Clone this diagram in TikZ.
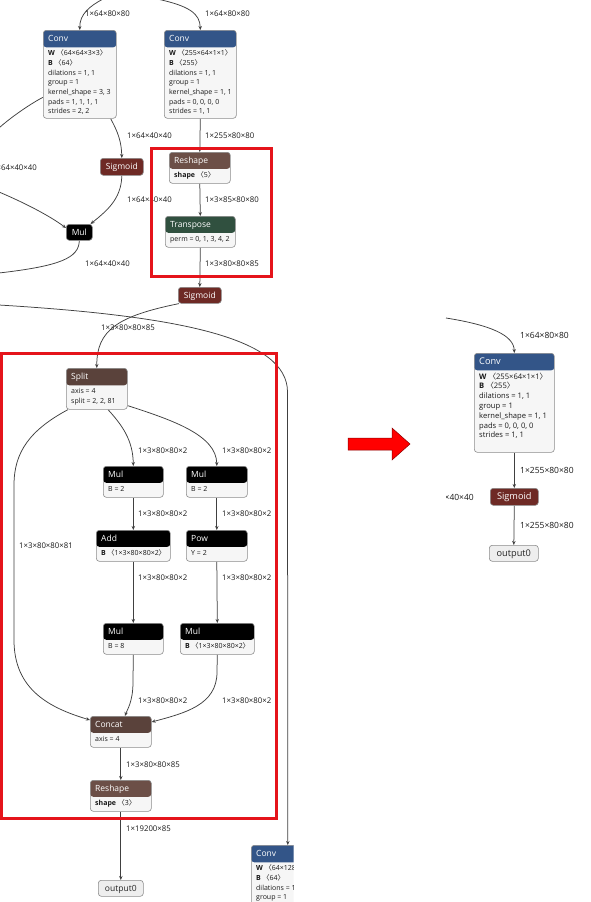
\documentclass[tikz,border=0pt]{standalone}
\usepackage{fontspec}
\setmainfont{Open Sans}
\newfontfamily\cjk{Noto Sans CJK SC}
\usetikzlibrary{arrows.meta}
\pgfdeclarelayer{bottom}
\pgfdeclarelayer{edges}
\pgfsetlayers{bottom,edges,main}
\definecolor{cLayer}{HTML}{335588}
\definecolor{cAct}{HTML}{6E2A25}
\definecolor{cShape}{HTML}{6C4F47}
\definecolor{cTensor}{HTML}{5A423B}
\definecolor{cTrans}{HTML}{30503F}
\definecolor{cEdge}{HTML}{404040}
\definecolor{cBorder}{HTML}{8C8C8C}
\definecolor{cBody}{HTML}{F6F6F6}
\definecolor{cOut}{HTML}{EEEEEE}
\definecolor{cRed}{HTML}{E5141B}
\newcommand\lbr{{\cjk 〈}}
\newcommand\rbr{{\cjk 〉}}
\def\bodysp{9.67}
\tikzset{
  opbox/.style={draw=cBorder, line width=0.6pt, fill=cBody, rounded corners=3pt, inner sep=0pt, anchor=north west},
  hdrtxt/.style={text=white, font=\fontsize{8.5}{10}\selectfont, inner sep=0pt, anchor=base west},
  bodytxt/.style={text=black!90, font=\fontsize{7}{9}\selectfont, inner sep=0pt, anchor=base west},
  elabel/.style={text=black!90, font=\fontsize{7.8}{9}\selectfont, inner sep=0pt, anchor=west},
  edge/.style={draw=cEdge, line width=0.75pt, -{Stealth[length=4pt,width=3.4pt]}},
  plainedge/.style={draw=cEdge, line width=0.75pt},
  redframe/.style={draw=cRed, line width=3pt},
}
% name, x, y, w, h, header colour, header height, title
\newcommand\opnode[8]{%
  \node[opbox, minimum width=#4, minimum height=#5,
    path picture={\fill[#6] ([yshift=2pt]path picture bounding box.north west) rectangle ([yshift=-#7 pt]path picture bounding box.north east);}]
    (#1) at (#2,#3) {};
  \node[hdrtxt] (#1-h) at ([xshift=5pt,yshift=-11.5pt]#1.north west) {#8};}
% name, x, y, w, h, fill, text colour, text
\newcommand\simplenode[8]{%
  \node[opbox, fill=#6, minimum width=#4, minimum height=#5] (#1) at (#2,#3) {};
  \node[hdrtxt, text=#7, anchor=base] (#1-h) at ([yshift=-3pt]#1.center) {#8};}
% name, x, first baseline y, lines
\newcommand\bodylines[4]{%
  \foreach \t [count=\i] in {#4}{\node[bodytxt] (#1-\i) at (#2,{#3+\bodysp*(\i-1)}) {\t};}}
\begin{document}
\begin{tikzpicture}[x=1pt,y=-1pt]
\useasboundingbox (0,0) rectangle (590,902);
\begin{pgfonlayer}{bottom}
  \fill[white] (0,0) rectangle (590,902);
\end{pgfonlayer}

%================ left panel =================
\begin{scope}
\clip (0,0) rectangle (293.5,902);
\opnode{convA}{43}{30}{73}{88}{cLayer}{17}{Conv}
\bodylines{convA}{48}{55.8}{{\textbf{W} \lbr 64×64×3×3\rbr},{\textbf{B} \lbr 64\rbr},{dilations = 1, 1},{group = 1},{kernel\_shape = 3, 3},{pads = 1, 1, 1, 1},{strides = 2, 2}}
\opnode{convB}{164}{30}{72}{88}{cLayer}{17}{Conv}
\bodylines{convB}{169}{55.8}{{\textbf{W} \lbr 255×64×1×1\rbr},{\textbf{B} \lbr 255\rbr},{dilations = 1, 1},{group = 1},{kernel\_shape = 1, 1},{pads = 0, 0, 0, 0},{strides = 1, 1}}
\simplenode{sigA}{100}{158}{43}{17}{cAct}{white}{Sigmoid}
\simplenode{mulA}{66}{224}{26}{16}{black}{white}{Mul}
\opnode{reshapeA}{169}{152}{61}{31}{cShape}{16.5}{Reshape}
\bodylines{reshapeA}{174}{177}{{\textbf{shape} \lbr 5\rbr}}
\opnode{transp}{165}{216}{70}{31}{cTrans}{16.5}{Transpose}
\bodylines{transp}{170}{241}{{perm = 0, 1, 3, 4, 2}}
\simplenode{sigB}{178}{287}{43}{16}{cAct}{white}{Sigmoid}
\opnode{split}{66}{368}{61}{41}{cTensor}{17}{Split}
\bodylines{split}{71}{393.5}{{axis = 4},{split = 2, 2, 81}}
\opnode{mul1}{103}{466}{60}{31}{black}{16.5}{Mul}
\bodylines{mul1}{108}{491.5}{{B = 2}}
\opnode{mul2}{186}{466}{61}{31}{black}{16.5}{Mul}
\bodylines{mul2}{191}{491.5}{{B = 2}}
\opnode{add}{96}{530}{74}{31}{black}{16.5}{Add}
\bodylines{add}{101}{555.5}{{\textbf{B} \lbr 1×3×80×80×2\rbr}}
\opnode{pow}{186}{530}{61}{31}{black}{16.5}{Pow}
\bodylines{pow}{191}{555.5}{{Y = 2}}
\opnode{mul3}{103}{623}{60}{31}{black}{16.5}{Mul}
\bodylines{mul3}{108}{648.5}{{B = 8}}
\opnode{mul4}{180}{623}{74}{31}{black}{16.5}{Mul}
\bodylines{mul4}{185}{648.5}{{\textbf{B} \lbr 1×3×80×80×2\rbr}}
\opnode{concat}{90}{716}{61}{31}{cTensor}{16.5}{Concat}
\bodylines{concat}{95}{741.5}{{axis = 4}}
\opnode{reshapeB}{90}{780}{61}{31}{cShape}{16.5}{Reshape}
\bodylines{reshapeB}{95}{805.5}{{\textbf{shape} \lbr 3\rbr}}
\simplenode{outA}{98}{880}{45}{16}{cOut}{black!85}{output0}
\opnode{convC}{251}{845}{73}{88}{cLayer}{17}{Conv}
\bodylines{convC}{256}{870.8}{{\textbf{W} \lbr 64×128×3×3\rbr},{\textbf{B} \lbr 64\rbr},{dilations = 1, 1},{group = 1}}

% edge labels
\node[elabel] (lA1) at (85,14) {1×64×80×80};
\node[elabel] (lB1) at (205,14) {1×64×80×80};
\node[elabel] (lA2) at (127,136) {1×64×40×40};
\node[elabel] (lA3) at (127,200) {1×64×40×40};
\node[elabel, anchor=east] (lA4) at (37,168) {1×64×40×40};
\node[elabel] (lA5) at (85,264) {1×64×40×40};
\node[elabel] (lB2) at (205,136) {1×255×80×80};
\node[elabel] (lB3) at (205,200) {1×3×85×80×80};
\node[elabel] (lB4) at (205,264) {1×3×80×80×85};
\node[elabel] (lB5) at (101,328) {1×3×80×80×85};
\node[elabel] (lS1) at (138,451) {1×3×80×80×2};
\node[elabel] (lS2) at (222,451) {1×3×80×80×2};
\node[elabel] (lS3) at (138,514) {1×3×80×80×2};
\node[elabel] (lS4) at (222,514) {1×3×80×80×2};
\node[elabel] (lS5) at (138,578) {1×3×80×80×2};
\node[elabel] (lS6) at (222,578) {1×3×80×80×2};
\node[elabel] (lS7) at (138,701) {1×3×80×80×2};
\node[elabel] (lS8) at (222,701) {1×3×80×80×2};
\node[elabel] (lS0) at (19,546) {1×3×80×80×81};
\node[elabel] (lC1) at (126,765) {1×3×80×80×85};
\node[elabel] (lC2) at (126,829) {1×19200×85};

% red frames
\draw[redframe] (151.5,148.5) rectangle (271.5,276);
\draw[redframe] (1.5,353) rectangle (276,818);
\end{scope}

\begin{pgfonlayer}{edges}
\coordinate (inA) at (103,-1);
\coordinate (inB) at (157,-1);
\coordinate (inC) at (-1,192);
\coordinate (outD) at (-1,128);
\coordinate (outE) at (-1,273);
\coordinate (inF) at (-1,305);
\draw[edge] (inA) .. controls (90,6) and (79.5,14) .. (convA.north);
\draw[edge] (inB) .. controls (190,6) and (200,14) .. (convB.north);
\draw[edge] ([xshift=-6pt]convA.south east) .. controls (118,132) and (121.5,142) .. (sigA.north);
\draw[edge] (sigA.south) .. controls (121.5,200) and (105,212) .. ([xshift=-2pt]mulA.north east);
\draw[edge] (inC) .. controls (25,203) and (50,216) .. ([yshift=-4pt]mulA.north west);
\draw[plainedge] ([yshift=-23pt]convA.west) .. controls (30,104) and (10,118) .. (outD);
\draw[plainedge] (mulA.south) .. controls (79,258) and (60,266) .. (outE);
\draw[edge] (inF) .. controls (180,316) and (287.5,338) .. (287.5,392) -- (convC.north);
\draw[edge] (convB.south) -- (reshapeA.north);
\draw[edge] (reshapeA.south) -- (transp.north);
\draw[edge] (transp.south) -- (sigB.north);
\draw[edge] ([xshift=1pt]sigB.south west) .. controls (118,316) and (96.5,330) .. (split.north);
\draw[edge] ([xshift=2pt]split.south west) .. controls (30,430) and (14,452) .. (14,485) -- (14,640) .. controls (14,690) and (50,708) .. ([yshift=-4pt]concat.north west);
\draw[edge] ([xshift=42pt]split.south west) .. controls (122,425) and (133,440) .. (mul1.north);
\draw[edge] ([yshift=4pt]split.south east) .. controls (172,420) and (216.5,435) .. (mul2.north);
\draw[edge] (mul1.south) -- (add.north);
\draw[edge] (mul2.south) -- (pow.north);
\draw[edge] (add.south) -- (mul3.north);
\draw[edge] (pow.south) -- (mul4.north);
\draw[edge] (mul3.south) -- (133,682) .. controls (133,702) and (127,710) .. ([xshift=35pt]concat.north west);
\draw[edge] (mul4.south) -- (217,672) .. controls (217,705) and (185,713) .. ([yshift=-6pt]concat.north east);
\draw[edge] (concat.south) -- (reshapeB.north);
\draw[edge] (reshapeB.south) -- (outA.north);
\end{pgfonlayer}

%================ arrow =================
\draw[draw=red!55!black, fill=red, line width=0.5pt] (348,438) -- (392,438) -- (392,428) -- (410,444) -- (392,460) -- (392,450) -- (348,450) -- cycle;

%================ right panel =================
\begin{scope}
\clip (446,0) rectangle (590,902);
\def\bodysp{9.83}
\tikzset{
  hdrtxt/.append style={font=\fontsize{9.2}{11}\selectfont},
  bodytxt/.append style={font=\fontsize{7.6}{9}\selectfont},
  elabel/.append style={font=\fontsize{8.5}{10}\selectfont}}
\opnode{convR}{474}{353}{80}{99}{cLayer}{17}{Conv}
\bodylines{convR}{479}{379}{{\textbf{W} \lbr 255×64×1×1\rbr},{\textbf{B} \lbr 255\rbr},{dilations = 1, 1},{group = 1},{kernel\_shape = 1, 1},{pads = 0, 0, 0, 0},{strides = 1, 1}}
\simplenode{sigR}{490}{488}{48}{17}{cAct}{white}{Sigmoid}
\simplenode{outR}{489}{545}{49}{16}{cOut}{black!85}{output0}
\node[elabel] (lR1) at (520,335) {1×64×80×80};
\node[elabel] (lR2) at (520,470) {1×255×80×80};
\node[elabel] (lR3) at (520,525) {1×255×80×80};
\node[elabel, anchor=east] (lR4) at (474,497) {1×64×40×40};
\end{scope}
\begin{pgfonlayer}{edges}
\coordinate (inR) at (446,318);
\draw[edge] (inR) .. controls (490,325) and (514,335) .. (convR.north);
\draw[edge] (convR.south) -- (sigR.north);
\draw[edge] (sigR.south) -- (outR.north);
\end{pgfonlayer}
\end{tikzpicture}
\end{document}
